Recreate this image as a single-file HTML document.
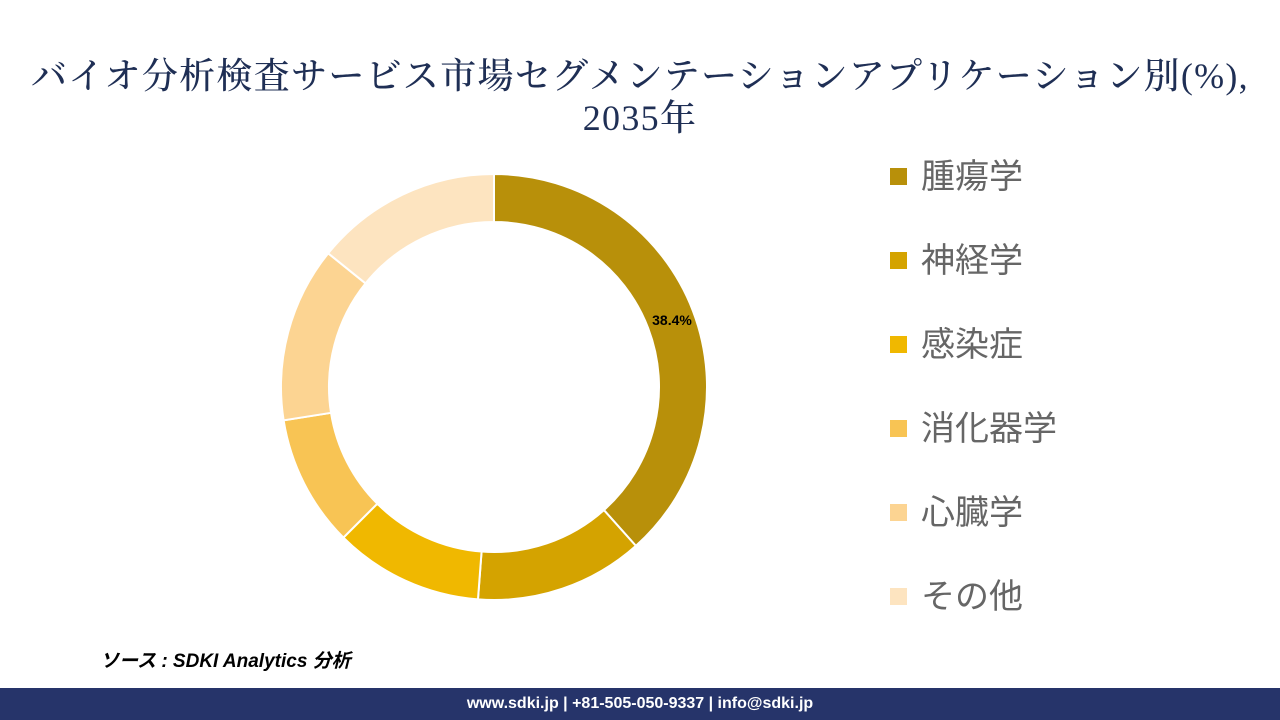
<!DOCTYPE html>
<html><head><meta charset="utf-8"><style>
body{margin:0;width:1280px;height:720px;background:#fff;position:relative;overflow:hidden;font-family:"Liberation Sans","Noto Sans CJK JP",sans-serif}
.title{position:absolute;left:0;width:1280px;top:55px;text-align:center;font-family:"Liberation Serif","Noto Serif CJK SC",serif;font-size:36px;line-height:42px;color:#1f2f55;letter-spacing:1.3px;font-weight:500}
.leg{position:absolute;left:890px;font-size:34px;color:#666;line-height:40px}
.leg span{display:inline-block;width:17px;height:17px;margin-right:14px;vertical-align:middle;position:relative;top:-3px}
.src{position:absolute;left:100px;top:646px;font-size:19px;font-style:italic;font-weight:bold;color:#000}
.foot{position:absolute;left:0;top:688px;width:1280px;height:32px;background:#26346a;color:#fff;font-weight:bold;font-size:16px;text-align:center;line-height:32px}
</style></head><body>
<div class="title">バイオ分析検査サービス市場セグメンテーションアプリケーション別(%),<br>2035年</div>
<svg id="d" width="1280" height="720" style="position:absolute;left:0;top:0">
<text x="672" y="325" font-size="14" font-weight="bold" text-anchor="middle" font-family="Liberation Sans, sans-serif">38.4%</text>
</svg>
<div class="leg" style="top:157px"><span style="background:#B8900A"></span>腫瘍学</div>
<div class="leg" style="top:241px"><span style="background:#D4A300"></span>神経学</div>
<div class="leg" style="top:325px"><span style="background:#F0B800"></span>感染症</div>
<div class="leg" style="top:409px"><span style="background:#F8C454"></span>消化器学</div>
<div class="leg" style="top:493px"><span style="background:#FCD492"></span>心臓学</div>
<div class="leg" style="top:577px"><span style="background:#FDE4C0"></span>その他</div>
<div class="src">ソース : SDKI Analytics 分析</div>
<div class="foot">www.sdki.jp | +81-505-050-9337 | info@sdki.jp</div>
<script>
var v=[38.4,12.8,11.3,10,13.3,14.2],c=["#B8900A","#D4A300","#F0B800","#F8C454","#FCD492","#FDE4C0"];
var cx=494,cy=387,R=213,r=165,a=0,s=document.getElementById('d'),h='';
function p(rad,ang){var t=ang/100*2*Math.PI;return [cx+rad*Math.sin(t),cy-rad*Math.cos(t)];}
for(var i=0;i<6;i++){var b=a+v[i],l=v[i]>50?1:0;var p1=p(R,a),p2=p(R,b),p3=p(r,b),p4=p(r,a);
h+='<path d="M'+p1+' A'+R+','+R+' 0 '+l+' 1 '+p2+' L'+p3+' A'+r+','+r+' 0 '+l+' 0 '+p4+' Z" fill="'+c[i]+'" stroke="#fff" stroke-width="2"/>';a=b;}
s.insertAdjacentHTML('afterbegin',h);
</script>
</body></html>
